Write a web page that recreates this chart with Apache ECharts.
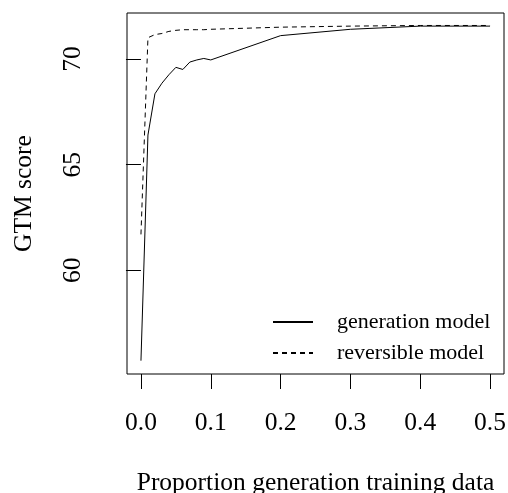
<!DOCTYPE html>
<html>
<head>
<meta charset="utf-8">
<script src="https://cdn.jsdelivr.net/npm/echarts@6/dist/echarts.min.js"></script>
<style>
  html, body { margin: 0; padding: 0; background: #fff; }
  #main { width: 508px; height: 493px; }
</style>
</head>
<body>
<div id="main"></div>
<script>
// 训练数据比例 (x)
var proportions = [0, 0.01, 0.02, 0.03, 0.04, 0.05, 0.06, 0.07, 0.08, 0.09, 0.1, 0.2, 0.3, 0.4, 0.5];
// generation model
var genScores = [55.73, 66.4, 68.35, 68.85, 69.25, 69.6, 69.5, 69.85, 69.95, 70.02, 69.95, 71.1, 71.4, 71.55, 71.55];
// reversible model
var revScores = [61.7, 71.0, 71.15, 71.2, 71.3, 71.35, 71.38, 71.38, 71.38, 71.38, 71.4, 71.5, 71.55, 71.58, 71.58];
// 刻度
var xTicks = [0, 0.1, 0.2, 0.3, 0.4, 0.5];
var yTicks = [60, 65, 70];

var font = 'Liberation Serif';

function pairs(ys) {
    return proportions.map(function (x, i) { return [x, ys[i]]; });
}

var chart = echarts.init(document.getElementById('main'));

var option = {
    animation: false,
    backgroundColor: '#fff',
    textStyle: { fontFamily: font, color: '#000' },
    grid: {
        left: 127, top: 13, width: 377, height: 361,
        outerBoundsMode: 'none',
        show: true, borderColor: '#000', borderWidth: 1,
        backgroundColor: 'transparent'
    },
    legend: {
        orient: 'vertical',
        left: 267, top: 306,
        itemWidth: 40, itemHeight: 14, itemGap: 9,
        // 只显示线, 不显示圆点
        itemStyle: { opacity: 0 },
        data: ['generation model', 'reversible model'],
        textStyle: { fontFamily: font, fontSize: 22, color: '#000', padding: [0, 0, 0, 19] }
    },
    xAxis: {
        type: 'value',
        min: -0.02, max: 0.52,
        name: 'Proportion generation training data',
        nameLocation: 'middle', nameGap: 96,
        nameTextStyle: { fontFamily: font, fontSize: 25.5, color: '#000' },
        axisLine: { show: false },
        splitLine: { show: false },
        axisTick: { show: true, length: 15, customValues: xTicks, lineStyle: { color: '#000' } },
        axisLabel: {
            customValues: xTicks, margin: 36,
            fontFamily: font, fontSize: 25.5, color: '#000',
            formatter: function (v) { return v.toFixed(1); }
        }
    },
    yAxis: {
        type: 'value',
        min: 55.1, max: 72.17,
        name: 'GTM score',
        nameLocation: 'middle', nameGap: 90,
        nameTextStyle: { fontFamily: font, fontSize: 25.5, color: '#000' },
        axisLine: { show: false },
        splitLine: { show: false },
        axisTick: { show: true, length: 15, customValues: yTicks, lineStyle: { color: '#000' } },
        axisLabel: {
            customValues: yTicks, margin: 41, rotate: 90,
            fontFamily: font, fontSize: 25.5, color: '#000'
        }
    },
    series: [{
        name: 'generation model',
        type: 'line',
        data: pairs(genScores),
        symbol: 'none',
        lineStyle: { color: '#000', width: 1, type: 'solid' },
        itemStyle: { color: '#000' }
    }, {
        name: 'reversible model',
        type: 'line',
        data: pairs(revScores),
        symbol: 'none',
        lineStyle: { color: '#000', width: 1, type: [5, 4] },
        itemStyle: { color: '#000' }
    }]
};

chart.setOption(option);
</script>
</body>
</html>
